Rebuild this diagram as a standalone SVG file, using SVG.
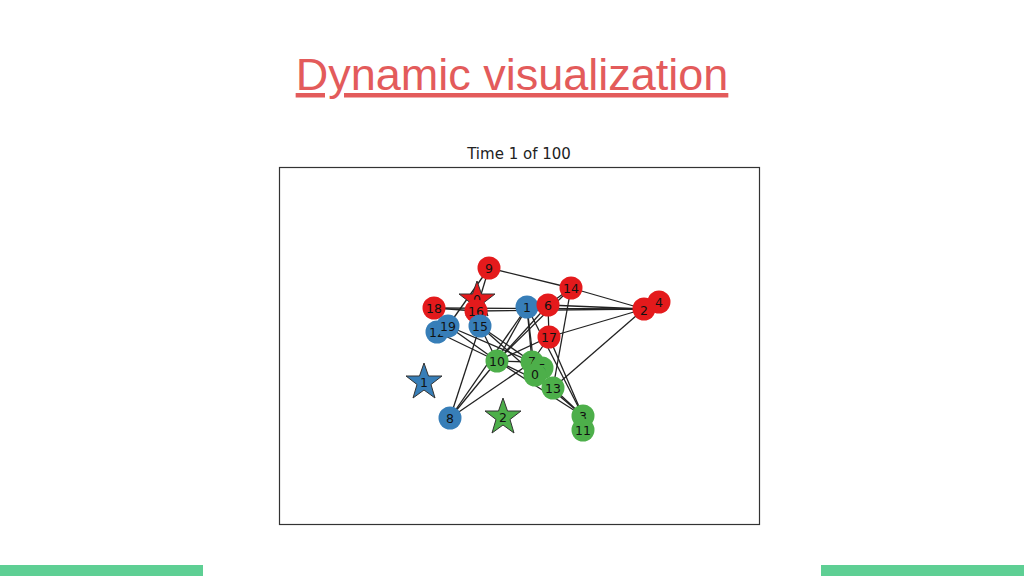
<svg xmlns="http://www.w3.org/2000/svg" width="1024" height="576" viewBox="0 0 1024 576">
<style>
.t{font-family:"Liberation Sans",Arial,sans-serif}
.e line{stroke:#222;stroke-width:1.3}
.r{fill:#e41a1c}.b{fill:#377eb8}.g{fill:#4daf4a}
.n circle{r:11.5}
.n text{font-family:"DejaVu Sans",sans-serif;font-size:12.5px;fill:#111;text-anchor:middle;dominant-baseline:central}
.s{stroke:#333;stroke-width:1}
</style>
<rect width="1024" height="576" fill="#fff"/>
<text class="t" x="512" y="90" font-size="45" fill="#e35b5b" text-anchor="middle" text-decoration="underline">Dynamic visualization</text>
<text x="519" y="159" font-family="DejaVu Sans,sans-serif" font-size="15" fill="#222" text-anchor="middle">Time 1 of 100</text>
<rect x="279.500" y="167.500" width="480" height="357" fill="none" stroke="#333" stroke-width="1.2"/>
<rect x="0" y="565" width="203" height="11" fill="#5ecf94"/>
<rect x="821" y="565" width="203" height="11" fill="#5ecf94"/>
<g id="edges" class="e">
<line x1="489" y1="268" x2="571" y2="288"/><line x1="489" y1="268" x2="476" y2="311"/><line x1="489" y1="268" x2="448" y2="326"/>
<line x1="571" y1="288" x2="644" y2="309"/><line x1="571" y1="288" x2="497" y2="361"/><line x1="571" y1="288" x2="553" y2="388"/><line x1="571" y1="288" x2="548" y2="305"/>
<line x1="434" y1="308" x2="644" y2="309"/><line x1="434" y1="308" x2="476" y2="311"/><line x1="476" y1="311" x2="644" y2="309"/>
<line x1="548" y1="305" x2="644" y2="309"/><line x1="549" y1="337" x2="644" y2="309"/><line x1="553" y1="388" x2="644" y2="309"/>
<line x1="527" y1="307" x2="497" y2="361"/><line x1="527" y1="307" x2="450" y2="418"/><line x1="527" y1="307" x2="532" y2="362"/><line x1="527" y1="307" x2="583" y2="416"/><line x1="527" y1="307" x2="535" y2="375"/>
<line x1="548" y1="305" x2="549" y2="337"/><line x1="548" y1="305" x2="497" y2="361"/>
<line x1="549" y1="337" x2="497" y2="361"/><line x1="549" y1="337" x2="583" y2="416"/><line x1="549" y1="337" x2="532" y2="362"/>
<line x1="480" y1="326" x2="532" y2="362"/><line x1="480" y1="326" x2="535" y2="375"/><line x1="480" y1="326" x2="450" y2="418"/><line x1="480" y1="326" x2="497" y2="361"/>
<line x1="448" y1="326" x2="497" y2="361"/><line x1="448" y1="326" x2="532" y2="362"/><line x1="437" y1="332" x2="497" y2="361"/>
<line x1="497" y1="361" x2="450" y2="418"/><line x1="497" y1="361" x2="583" y2="416"/><line x1="497" y1="361" x2="532" y2="362"/><line x1="497" y1="361" x2="553" y2="388"/>
<line x1="553" y1="388" x2="583" y2="416"/><line x1="535" y1="375" x2="583" y2="416"/><line x1="532" y1="362" x2="450" y2="418"/>
</g>
<defs><polygon id="st" points="0,-19 4.5,-6 18,-6 7,2.5 11,16 0,8 -11,16 -7,2.5 -18,-6 -4.5,-6"/></defs>
<g class="n">
<g id="s0"><use href="#st" x="477" y="300" class="r s"/><text x="477" y="299">0</text></g>
<g id="n9"><circle cx="489" cy="268" class="r"/><text x="489" y="268">9</text></g>
<g id="n14"><circle cx="571" cy="288" class="r"/><text x="571" y="288">14</text></g>
<g id="n18"><circle cx="434" cy="308" class="r"/><text x="434" y="308">18</text></g>
<g id="n16"><circle cx="476" cy="311" class="r"/><text x="476" y="311">16</text></g>
<g id="n4"><circle cx="659" cy="302" class="r"/><text x="659" y="302">4</text></g>
<g id="n2"><circle cx="644" cy="309" class="r"/><text x="644" y="310">2</text></g>
<g id="n1"><circle cx="527" cy="307" class="b"/><text x="527" y="307">1</text></g>
<g id="n6"><circle cx="548" cy="305" class="r"/><text x="548" y="305">6</text></g>
<g id="n12"><circle cx="437" cy="332" class="b"/><text x="437" y="332">12</text></g>
<g id="n19"><circle cx="448" cy="326" class="b"/><text x="448" y="326">19</text></g>
<g id="n15"><circle cx="480" cy="326" class="b"/><text x="480" y="326">15</text></g>
<g id="n17"><circle cx="549" cy="337" class="r"/><text x="549" y="337">17</text></g>
<g id="n10"><circle cx="497" cy="361" class="g"/><text x="497" y="361">10</text></g>
<g id="n7"><circle cx="532" cy="362" class="g"/><text x="532" y="361">7</text></g>
<g id="n5"><circle cx="542" cy="368" class="g"/><text x="542" y="368">5</text></g>
<g id="n0"><circle cx="535" cy="375" class="g"/><text x="535" y="374">0</text></g>
<g id="n13"><circle cx="553" cy="388" class="g"/><text x="553" y="388">13</text></g>
<g id="s1"><use href="#st" x="424" y="382" class="b s"/><text x="424" y="382">1</text></g>
<g id="n8"><circle cx="450" cy="418" class="b"/><text x="450" y="418">8</text></g>
<g id="s2"><use href="#st" x="503" y="417" class="g s"/><text x="503" y="417">2</text></g>
<g id="n3"><circle cx="583" cy="416" class="g"/><text x="583" y="416">3</text></g>
<g id="n11"><circle cx="583" cy="430" class="g"/><text x="583" y="430">11</text></g>
</g>
</svg>
